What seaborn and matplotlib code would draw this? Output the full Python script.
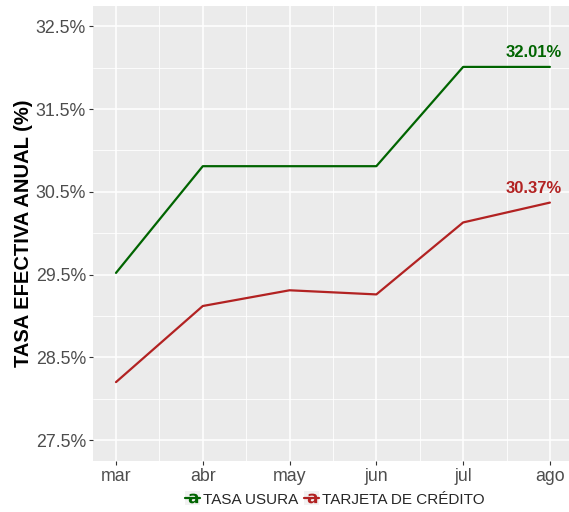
import numpy as np
import pandas as pd
import matplotlib
matplotlib.use('Agg')
import matplotlib.pyplot as plt
from matplotlib.lines import Line2D
from matplotlib.patches import Rectangle
from matplotlib.legend_handler import HandlerTuple
from matplotlib.ticker import MultipleLocator, FuncFormatter
import seaborn as sns

# data
months = ['mar', 'abr', 'may', 'jun', 'jul', 'ago']
usura = [29.52, 30.81, 30.81, 30.81, 32.01, 32.01]
tarjeta = [28.20, 29.12, 29.31, 29.26, 30.13, 30.37]
series = ['TASA USURA', 'TARJETA DE CRÉDITO']
colors = ['#006400', '#B22222']

df = pd.DataFrame({
    'mes': months * 2,
    'tasa': usura + tarjeta,
    'serie': [series[0]] * len(months) + [series[1]] * len(months),
})

sns.set_theme(style='darkgrid', rc={
    'axes.facecolor': '#EBEBEB',
    'grid.color': 'white',
    'axes.edgecolor': '#EBEBEB',
})
plt.rcParams['font.family'] = ['Liberation Sans', 'DejaVu Sans']

fig = plt.figure(figsize=(5.69, 5.12), dpi=100)
ax = fig.add_axes([93 / 569, 1 - 460.7 / 512, 1 - 93 / 569, (460.7 - 5.7) / 512])

sns.lineplot(df, x='mes', y='tasa', hue='serie', palette=colors, lw=1.6,
             legend=False, ax=ax, sort=False, zorder=3)

# end labels
for vals, c in zip([usura, tarjeta], colors):
    ax.annotate(f'{vals[-1]:.2f}%', (len(months) - 1, vals[-1]),
                xytext=(-16, 14), textcoords='offset pixels',
                ha='center', va='center', fontsize=12, fontweight='bold',
                color=c, zorder=4)

ax.set_xlim(-0.265, 5.22)
ax.set_ylim(27.25, 32.75)
ax.yaxis.set_major_locator(MultipleLocator(1.0, offset=0.5))
ax.yaxis.set_minor_locator(MultipleLocator(0.5))
ax.xaxis.set_minor_locator(MultipleLocator(0.5, offset=0.5))
ax.yaxis.set_major_formatter(FuncFormatter(lambda v, p: f'{v:.1f}%'))
ax.grid(which='major', color='white', lw=1.1)
ax.grid(which='minor', color='white', lw=0.6)
ax.tick_params(which='major', length=3, width=0.8, color='#333333',
               labelsize=12.8, labelcolor='#4D4D4D', pad=2, left=True, bottom=True)
ax.tick_params(which='minor', length=0)
ax.set_xlabel('')
ax.set_ylabel('TASA EFECTIVA ANUAL (%)', fontsize=14.5, fontweight='bold',
              color='black', labelpad=2)
for s in ax.spines.values():
    s.set_visible(False)

handles = [(Rectangle((0, 0), 1, 1, facecolor='#F2F2F2', edgecolor='none'),
            Line2D([], [], color=c, lw=1.6, marker=r'$\mathbf{a}$',
                   markersize=7, markeredgewidth=0)) for c in colors]
fig.legend(handles, series, loc='center', bbox_to_anchor=(335 / 569, 1 - 499 / 512),
           ncol=2, frameon=False, fontsize=11, handlelength=0.95, handleheight=1.0,
           handletextpad=0.2, columnspacing=0.4, borderpad=0,
           handler_map={tuple: HandlerTuple(ndivide=1, pad=0)})

fig.savefig('out.png', dpi=100)
